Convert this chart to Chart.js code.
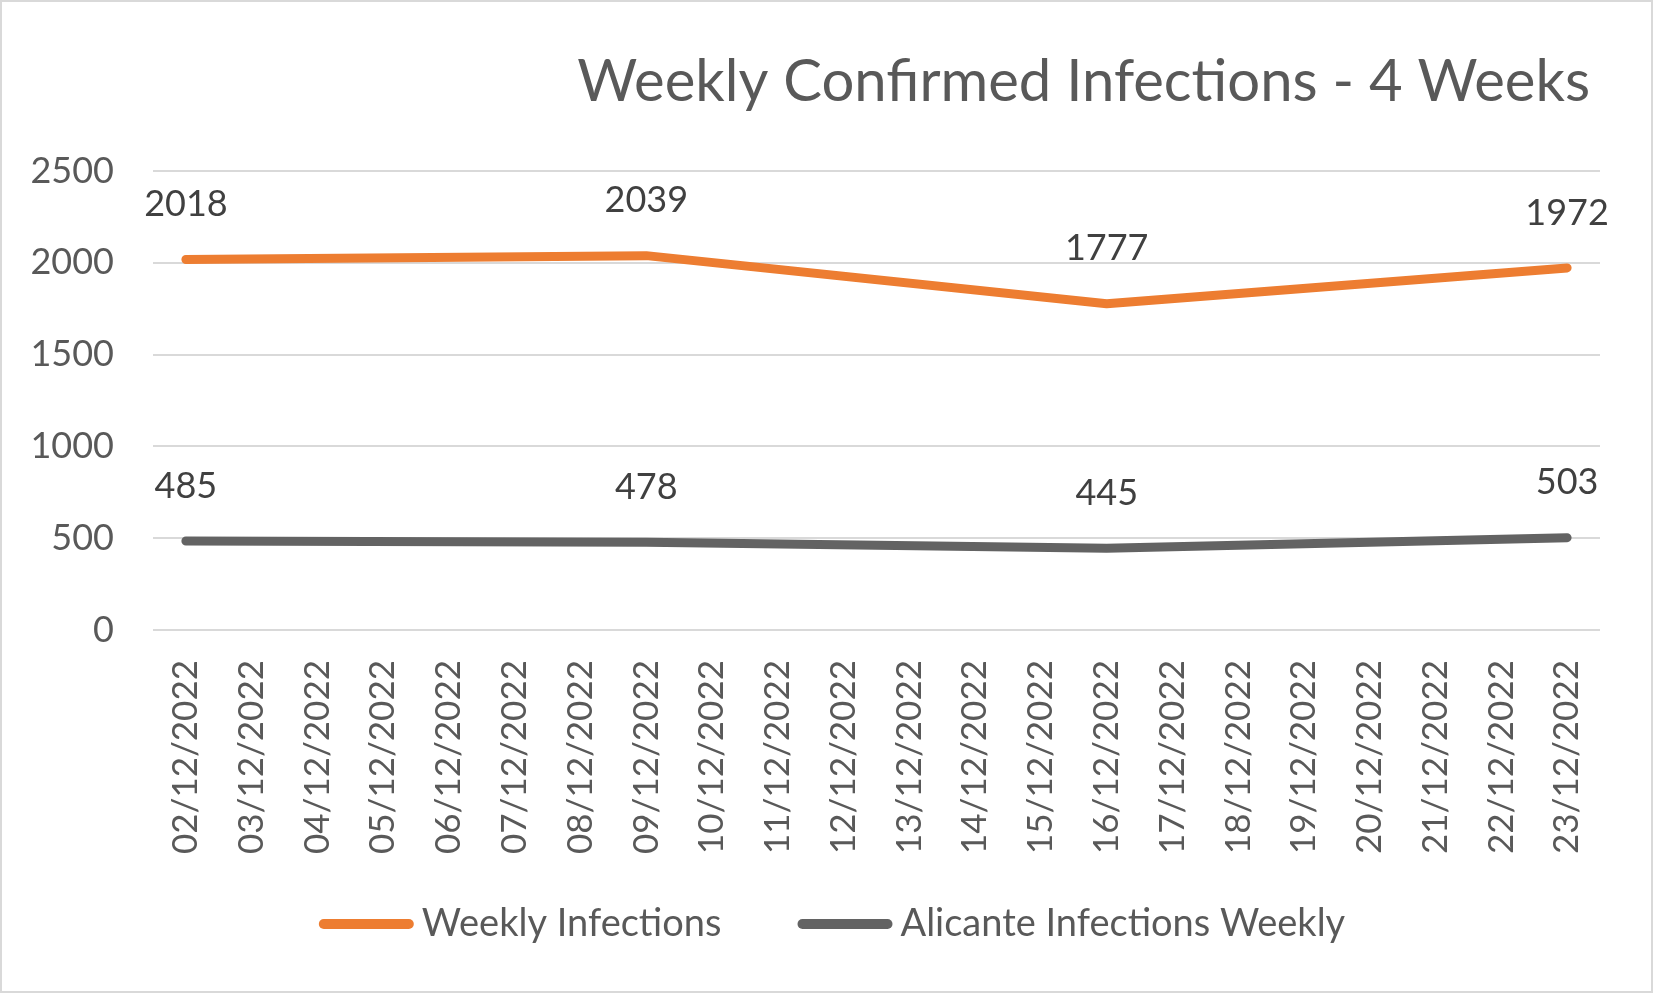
<!DOCTYPE html>
<html>
<head>
<meta charset="utf-8">
<script src="https://cdn.jsdelivr.net/npm/chart.js@4"></script>
<style>
  html, body { margin: 0; padding: 0; background: #fff; }
  #wrap { width: 1653px; height: 993px; box-sizing: border-box; border: 2px solid #d9d9d9; }
</style>
</head>
<body>
<div id="wrap"><canvas id="chart" width="1649" height="989"></canvas></div>
<script>
const days = [
  '02/12/2022', '03/12/2022', '04/12/2022', '05/12/2022', '06/12/2022', '07/12/2022', '08/12/2022',
  '09/12/2022', '10/12/2022', '11/12/2022', '12/12/2022', '13/12/2022', '14/12/2022', '15/12/2022',
  '16/12/2022', '17/12/2022', '18/12/2022', '19/12/2022', '20/12/2022', '21/12/2022', '22/12/2022',
  '23/12/2022'
];
// only the weekly days have a value
const weeklyInfections = [2018, null, null, null, null, null, null, 2039, null, null, null, null, null, null,
  1777, null, null, null, null, null, null, 1972];
const alicanteWeekly = [485, null, null, null, null, null, null, 478, null, null, null, null, null, null,
  445, null, null, null, null, null, null, 503];
const yTicks = [0, 500, 1000, 1500, 2000, 2500];
const chartTitle = 'Weekly Confirmed Infections - 4 Weeks';

const FONT = 'Lato, "Open Sans", sans-serif';

// title, right aligned just inside the plot edge
const rightTitle = {
  id: 'rightTitle',
  afterDraw(chart) {
    const ctx = chart.ctx;
    ctx.save();
    ctx.font = '58px ' + FONT;
    ctx.fillStyle = '#595959';
    ctx.textAlign = 'right';
    ctx.textBaseline = 'middle';
    ctx.fillText(chartTitle, chart.chartArea.right - 10, 80);
    ctx.restore();
  }
};

// value labels above each point
const pointLabels = {
  id: 'pointLabels',
  afterDatasetsDraw(chart) {
    const ctx = chart.ctx;
    ctx.save();
    ctx.font = '36px ' + FONT;
    ctx.fillStyle = '#404040';
    ctx.textAlign = 'center';
    ctx.textBaseline = 'middle';
    chart.data.datasets.forEach((ds, i) => {
      chart.getDatasetMeta(i).data.forEach((pt, j) => {
        if (ds.data[j] == null) return;
        ctx.fillText(String(ds.data[j]), pt.x, pt.y - 55);
      });
    });
    ctx.restore();
  }
};

// legend drawn like the excel one: long round line then text
const lineLegend = {
  id: 'lineLegend',
  afterDraw(chart) {
    const ctx = chart.ctx;
    const lineLen = 95, gap = 8, itemGap = 76, y = 922;
    ctx.save();
    ctx.font = '38px ' + FONT;
    const items = chart.data.datasets.map(ds => ({ ds, w: lineLen + gap + ctx.measureText(ds.label).width }));
    const total = items.reduce((s, it) => s + it.w, 0) + itemGap * (items.length - 1);
    let x = 830 - total / 2;
    items.forEach(it => {
      ctx.strokeStyle = it.ds.borderColor;
      ctx.lineWidth = 10;
      ctx.lineCap = 'round';
      ctx.beginPath();
      ctx.moveTo(x + 5, y);
      ctx.lineTo(x + lineLen - 5, y);
      ctx.stroke();
      ctx.fillStyle = '#595959';
      ctx.textAlign = 'left';
      ctx.textBaseline = 'middle';
      ctx.fillText(it.ds.label, x + lineLen + gap, y);
      x += it.w + itemGap;
    });
    ctx.restore();
  }
};

new Chart(document.getElementById('chart'), {
  type: 'line',
  data: {
    labels: days,
    datasets: [
      {
        label: 'Weekly Infections',
        data: weeklyInfections,
        borderColor: '#ed7d31',
        backgroundColor: '#ed7d31',
        borderWidth: 9,
        borderCapStyle: 'round',
        borderJoinStyle: 'round',
        pointRadius: 0,
        spanGaps: true,
        tension: 0
      },
      {
        label: 'Alicante Infections Weekly',
        data: alicanteWeekly,
        borderColor: '#636363',
        backgroundColor: '#636363',
        borderWidth: 9,
        borderCapStyle: 'round',
        borderJoinStyle: 'round',
        pointRadius: 0,
        spanGaps: true,
        tension: 0
      }
    ]
  },
  options: {
    responsive: false,
    animation: false,
    layout: { padding: { left: 0, right: 51, top: 169, bottom: 0 } },
    plugins: {
      legend: { display: false },
      tooltip: { enabled: false },
      title: { display: false }
    },
    scales: {
      x: {
        offset: true,
        grid: { display: false, drawTicks: false },
        border: { display: false },
        ticks: {
          autoSkip: false,
          minRotation: 90,
          maxRotation: 90,
          padding: 30,
          color: '#595959',
          font: { family: FONT, size: 35 }
        },
        afterFit(scale) { scale.height = 361; }
      },
      y: {
        min: 0,
        max: 2500,
        afterBuildTicks(scale) { scale.ticks = yTicks.map(v => ({ value: v })); },
        grid: { color: '#d9d9d9', lineWidth: 2, drawTicks: false },
        border: { display: false },
        ticks: {
          padding: 39,
          color: '#595959',
          font: { family: FONT, size: 36 },
          callback: v => String(v)
        },
        afterFit(scale) { scale.width = 151; }
      }
    }
  },
  plugins: [rightTitle, pointLabels, lineLegend]
});
</script>
</body>
</html>
